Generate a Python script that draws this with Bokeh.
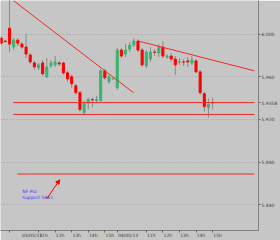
from bokeh.plotting import figure
from bokeh.models import ColumnDataSource, FixedTicker, Range1d, Arrow, NormalHead, NumeralTickFormatter
from bokeh.embed import file_html
from bokeh.resources import INLINE
from bokeh.core.properties import value

# 15-minute candles (index along the time axis)
idx = list(range(52))
opens = [5.9963, 5.9935, 6.0056, 5.9879, 5.9944, 5.9907, 5.9879, 5.9805, 5.9730, 5.9684,
         5.9730, 5.9600, 5.9702, 5.9712, 5.9730, 5.9730, 5.9637, 5.9600, 5.9516, 5.9451,
         5.9265, 5.9358, 5.9386, 5.9377, 5.9377, 5.9656, 5.9553, 5.9581, 5.9498, 5.9851,
         5.9814, 5.9860, 5.9898, 5.9935, 5.9851, 5.9702, 5.9767, 5.9832, 5.9823, 5.9879,
         5.9786, 5.9795, 5.9767, 5.9740, 5.9740, 5.9749, 5.9730, 5.9749, 5.9646, 5.9442,
         5.9312, 5.9358]
highs = [5.9981, 5.9944, 6.0340, 5.9963, 5.9963, 5.9925, 6.0000, 5.9823, 5.9749, 5.9730,
         5.9758, 5.9777, 5.9758, 5.9795, 5.9749, 5.9740, 5.9656, 5.9619, 5.9535, 5.9470,
         5.9377, 5.9405, 5.9405, 5.9423, 5.9674, 5.9674, 5.9619, 5.9591, 5.9870, 5.9870,
         5.9907, 5.9925, 5.9963, 5.9953, 5.9870, 5.9851, 5.9879, 5.9860, 5.9907, 5.9935,
         5.9814, 5.9823, 5.9795, 5.9777, 5.9767, 5.9786, 5.9795, 5.9767, 5.9665, 5.9460,
         5.9395, 5.9405]
lows = [5.9898, 5.9925, 5.9832, 5.9851, 5.9888, 5.9860, 5.9777, 5.9721, 5.9665, 5.9665,
        5.9609, 5.9591, 5.9684, 5.9693, 5.9702, 5.9619, 5.9553, 5.9498, 5.9433, 5.9274,
        5.9237, 5.9293, 5.9312, 5.9358, 5.9367, 5.9572, 5.9535, 5.9572, 5.9479, 5.9777,
        5.9786, 5.9832, 5.9879, 5.9832, 5.9693, 5.9684, 5.9740, 5.9795, 5.9786, 5.9777,
        5.9767, 5.9740, 5.9619, 5.9712, 5.9702, 5.9693, 5.9712, 5.9637, 5.9433, 5.9274,
        5.9219, 5.9293]
closes = [5.9916, 5.9930, 5.9907, 5.9944, 5.9916, 5.9879, 5.9814, 5.9740, 5.9693, 5.9712,
          5.9628, 5.9693, 5.9730, 5.9740, 5.9721, 5.9637, 5.9581, 5.9535, 5.9451, 5.9293,
          5.9349, 5.9386, 5.9384, 5.9386, 5.9656, 5.9591, 5.9600, 5.9583, 5.9851, 5.9795,
          5.9851, 5.9898, 5.9935, 5.9851, 5.9712, 5.9832, 5.9832, 5.9830, 5.9879, 5.9795,
          5.9795, 5.9767, 5.9712, 5.9742, 5.9738, 5.9740, 5.9758, 5.9646, 5.9451, 5.9321,
          5.9340, 5.9356]

price_ticks = [6.000, 5.960, 5.920, 5.880, 5.840]
time_tick_idx = [2, 9, 13, 17, 21, 25, 28, 35, 39, 43, 47, 51]
time_tick_labels = ["03/05/13", "11h", "12h", "13h", "14h", "15h",
                    "04/05/13", "11h", "12h", "13h", "14h", "15h"]

trend1_x = [2.92, 31.9]
trend1_y = [6.0316, 5.9451]
trend2_x = [33.1, 61.1]
trend2_y = [5.9935, 5.9656]
level_prices = [5.9358, 5.9247, 5.8688]
level_start = [2.9, 2.9, 3.9]
level_end = [61.1, 61.1, 61.1]
note_lines = ["NF Put", "Support 5861"]
note_x = [5.1, 5.1]
note_y = [5.8548, 5.8492]
arrow_x = [11.0, 14.1]
arrow_y = [5.8456, 5.8633]
last_price = 5.9358
last_price_text = "5.9358"

BG = "#c6c6c6"
UP = "#3cb371"
DOWN = "#ff0000"
LINE_RED = "#ee2a2a"
FONT = "DejaVu Sans"
FS = "4.5px"
NB = "\u00a0"


def left_aligned(label):
    # pad with non-breaking spaces so the centred tick label starts just right of its tick
    n = sum(1 if ch in "/." else 2 for ch in label) + 1
    return NB * n + label


p = figure(width=280, height=240, output_backend="svg", toolbar_location=None,
           x_range=Range1d(-0.17, 62.07), y_range=Range1d(5.8158, 6.0316),
           y_axis_location="right",
           min_border_left=0, min_border_top=0, min_border_right=18, min_border_bottom=6,
           background_fill_color=BG, border_fill_color=BG, outline_line_color=None)

# axes
xa = p.xaxis[0]
xa.ticker = FixedTicker(ticks=time_tick_idx)
xa.major_label_overrides = {t: left_aligned(l) for t, l in zip(time_tick_idx, time_tick_labels)}
xa.major_label_text_font_size = FS
xa.major_label_text_font = FONT
xa.major_label_text_color = "#404040"
xa.major_label_standoff = 0
xa.major_tick_in = 0
xa.major_tick_out = 2
xa.minor_tick_line_color = None
xa.axis_line_color = "#808080"
xa.major_tick_line_color = "#606060"

ya = p.yaxis[0]
ya.ticker = FixedTicker(ticks=price_ticks + [last_price])
ya.formatter = NumeralTickFormatter(format="0.000")
ya.major_label_overrides = {last_price: last_price_text}
ya.major_label_text_font_size = FS
ya.major_label_text_font = FONT
ya.major_label_text_color = "#404040"
ya.major_label_standoff = 1
ya.major_tick_in = 0
ya.major_tick_out = 2
ya.minor_tick_line_color = None
ya.axis_line_color = "#808080"
ya.major_tick_line_color = "#606060"

p.xgrid.visible = False
p.ygrid.ticker = FixedTicker(ticks=price_ticks)
p.ygrid.grid_line_color = "#a4a4a4"
p.ygrid.grid_line_dash = "1 2"

# candles
colors = [UP if c > o else DOWN for o, c in zip(opens, closes)]
src = ColumnDataSource(dict(
    x=idx, high=highs, low=lows,
    top=[max(o, c) for o, c in zip(opens, closes)],
    bottom=[min(o, c) for o, c in zip(opens, closes)],
    color=colors))
p.segment(x0="x", y0="high", x1="x", y1="low", line_color="#8a8a8a", line_width=1, source=src)
p.vbar(x="x", width=0.5, top="top", bottom="bottom", fill_color="color",
       line_color="color", line_width=1, source=src)

# trend lines and levels
p.line(trend1_x, trend1_y, line_color=LINE_RED, line_width=1)
p.line(trend2_x, trend2_y, line_color=LINE_RED, line_width=1)
p.segment(x0=level_start, y0=level_prices, x1=level_end, y1=level_prices,
          line_color=LINE_RED, line_width=1)

# note and arrow
p.text(x=note_x, y=note_y, text=note_lines, text_font=value(FONT), text_font_size=FS,
       text_color="#3a3aff", text_baseline="top", text_align="left")
p.add_layout(Arrow(end=NormalHead(size=4, fill_color="#ff0000", line_color="#ff0000"),
                   x_start=arrow_x[0], y_start=arrow_y[0], x_end=arrow_x[1], y_end=arrow_y[1],
                   line_color="#ff0000", line_width=1))

open("out.html", "w").write(file_html(p, INLINE))
